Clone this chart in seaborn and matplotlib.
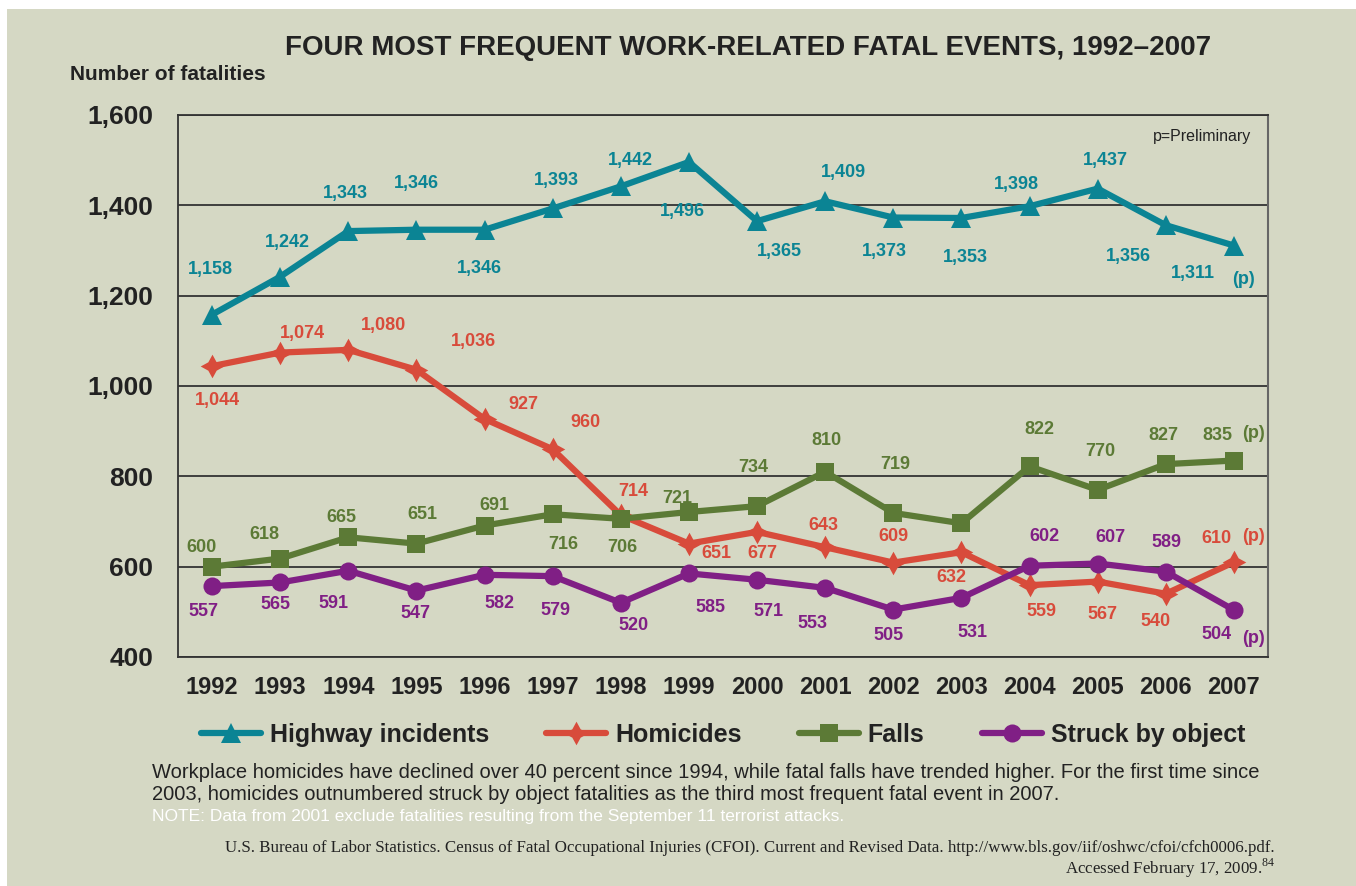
import numpy as np
import pandas as pd
import matplotlib
matplotlib.use("Agg")
import matplotlib.pyplot as plt
import seaborn as sns
from matplotlib.patches import Rectangle

years = [str(y) for y in range(1992, 2008)]

highway = [1158, 1242, 1343, 1346, 1346, 1393, 1442, 1496, 1365, 1409, 1373, 1372, 1398, 1437, 1356, 1311]
homicides = [1044, 1074, 1080, 1036, 927, 860, 714, 651, 677, 643, 609, 632, 559, 567, 540, 610]
falls = [600, 618, 665, 651, 691, 716, 706, 721, 734, 810, 719, 696, 822, 770, 827, 835]
struck = [557, 565, 591, 547, 582, 579, 520, 585, 571, 553, 505, 531, 602, 607, 589, 504]

# printed labels (as they appear on the original chart)
highway_lbl = ["1,158", "1,242", "1,343", "1,346", "1,346", "1,393", "1,442", "1,496",
               "1,365", "1,409", "1,373", "1,353", "1,398", "1,437", "1,356", "1,311"]
homicides_lbl = ["1,044", "1,074", "1,080", "1,036", "927", "960", "714", "651",
                 "677", "643", "609", "632", "559", "567", "540", "610"]
falls_lbl = ["600", "618", "665", "651", "691", "716", "706", "721",
             "734", "810", "719", "", "822", "770", "827", "835"]
struck_lbl = ["557", "565", "591", "547", "582", "579", "520", "585",
              "571", "553", "505", "531", "602", "607", "589", "504"]

# label offsets in pixels (dx, dy; dy positive = below the point)
highway_off = [(-2, -45), (7, -34), (-3, -38), (0, -46), (-5, 39), (4, -28), (10, -26), (-7, 50),
               (22, 30), (18, -29), (-9, 34), (4, 40), (-13, -22), (8, -28), (-37, 31), (-41, 28)]
homicides_off = [(5, 34), (22, -19), (35, -24), (57, -28), (39, -14), (33, -27), (12, -24), (27, 10),
                 (5, 22), (-2, -22), (0, -26), (-10, 25), (12, 26), (5, 33), (-10, 28), (-18, -24)]
falls_off = [(-11, -19), (-16, -24), (-7, -20), (6, -29), (10, -20), (11, 30), (2, 29), (-12, -14),
             (-4, -39), (1, -31), (2, -48), (0, 0), (10, -37), (3, -38), (-2, -29), (-17, -25)]
struck_off = [(-9, 25), (-5, 22), (-15, 33), (-1, 23), (15, 29), (3, 34), (13, 23), (22, 34),
              (11, 32), (-13, 36), (-5, 26), (11, 35), (15, -29), (13, -26), (1, -29), (-17, 24)]

c_hwy = "#0b8494"
c_hom = "#d84b3b"
c_fal = "#5c7a36"
c_str = "#801f85"
bg = "#d5d8c4"
ink = "#222222"

sns.set_theme(style="white")
plt.rcParams["font.family"] = ["Liberation Sans", "DejaVu Sans"]
plt.rcParams["mathtext.fontset"] = "custom"
plt.rcParams["mathtext.rm"] = "Liberation Serif"

fig = plt.figure(figsize=(13.56, 8.86), dpi=100, facecolor="white")
fig.patches.append(Rectangle((7 / 1356, 0), 1, 1 - 9 / 886, transform=fig.transFigure,
                             facecolor=bg, edgecolor="none", zorder=-10))
ax = fig.add_axes([178 / 1356, 1 - 657 / 886, 1090 / 1356, 542 / 886])
ax.set_facecolor(bg)

series = [
    ("Highway incidents", highway, highway_lbl, highway_off, c_hwy, "^", 15),
    ("Homicides", homicides, homicides_lbl, homicides_off, c_hom, (4, 1, 0), 17),
    ("Falls", falls, falls_lbl, falls_off, c_fal, "s", 13),
    ("Struck by object", struck, struck_lbl, struck_off, c_str, "o", 13),
]

for name, vals, lbls, offs, col, mk, ms in series:
    df = pd.DataFrame({"year": years, "n": vals})
    sns.lineplot(data=df, x="year", y="n", ax=ax, color=col, linewidth=4.5,
                 marker=mk, markersize=ms, markeredgewidth=0, label=name, zorder=3)
    for i, (v, t, (dx, dy)) in enumerate(zip(vals, lbls, offs)):
        if not t:
            continue
        ax.annotate(t, (i, v), xytext=(dx, -dy), textcoords="offset pixels",
                    ha="center", va="center", fontsize=13, fontweight="bold", color=col)

# preliminary markers
ax.annotate("(p)", (15, highway[-1]), xytext=(10, -34), textcoords="offset pixels",
            ha="center", va="center", fontsize=13, fontweight="bold", color=c_hwy)
ax.annotate("(p)", (15, homicides[-1]), xytext=(20, 26), textcoords="offset pixels",
            ha="center", va="center", fontsize=13, fontweight="bold", color=c_hom)
ax.annotate("(p)", (15, falls[-1]), xytext=(20, 27), textcoords="offset pixels",
            ha="center", va="center", fontsize=13, fontweight="bold", color=c_fal)
ax.annotate("(p)", (15, struck[-1]), xytext=(20, -28), textcoords="offset pixels",
            ha="center", va="center", fontsize=13, fontweight="bold", color=c_str)

ax.set_xlim(-0.5, 15.5)
ax.set_ylim(400, 1600)
ax.set_yticks(range(400, 1601, 200))
ax.set_yticklabels([f"{v:,}" for v in range(400, 1601, 200)], fontsize=19, fontweight="bold")
ax.set_xticks(range(16))
ax.set_xticklabels(years, fontsize=17, fontweight="bold")
ax.set_xticks(np.arange(-0.5, 16, 1), minor=True)
ax.tick_params(axis="x", which="major", length=0, pad=14, labelcolor=ink)
ax.tick_params(axis="x", which="minor", length=11, width=1, color="#444444", direction="out")
ax.tick_params(axis="y", length=12, width=1, color="#444444", pad=6, labelcolor=ink)
ax.yaxis.grid(True, color="#333333", linewidth=1.3)
ax.set_axisbelow(True)
ax.set_xlabel("")
ax.set_ylabel("")
for s in ["left", "bottom", "top"]:
    ax.spines[s].set_color("#333333")
    ax.spines[s].set_linewidth(1.3)
ax.spines["right"].set_color("#666666")
ax.spines["right"].set_linewidth(1.5)

ax.text(0.985, 0.975, "p=Preliminary", transform=ax.transAxes, ha="right", va="top",
        fontsize=11.5, color=ink)

handles, labels = ax.get_legend_handles_labels()
ax.get_legend().remove()
fig.legend(handles, labels, loc="center", bbox_to_anchor=(723 / 1356, 1 - 735 / 886), ncol=4,
           frameon=False, prop={"weight": "bold", "size": 18},
           handlelength=2.4, handletextpad=0.35, columnspacing=2.3, labelcolor=ink)

fig.text(748 / 1356, 1 - 48 / 886, "FOUR MOST FREQUENT WORK-RELATED FATAL EVENTS, 1992–2007",
         ha="center", va="center", fontsize=20, fontweight="bold", color=ink)
fig.text(70 / 1356, 1 - 75 / 886, "Number of fatalities", ha="left", va="center",
         fontsize=15, fontweight="bold", color=ink)

fig.text(152 / 1356, 1 - 773 / 886,
         "Workplace homicides have declined over 40 percent since 1994, while fatal falls have trended higher. "
         "For the first time since", ha="left", va="center", fontsize=14.5, color=ink)
fig.text(152 / 1356, 1 - 795 / 886,
         "2003, homicides outnumbered struck by object fatalities as the third most frequent fatal event in 2007.",
         ha="left", va="center", fontsize=14.5, color=ink)
fig.text(152 / 1356, 1 - 816 / 886,
         "NOTE: Data from 2001 exclude fatalities resulting from the September 11 terrorist attacks.",
         ha="left", va="center", fontsize=12.5, color="white")
fig.text(1275 / 1356, 1 - 848 / 886,
         "U.S. Bureau of Labor Statistics. Census of Fatal Occupational Injuries (CFOI). Current and Revised Data. "
         "http://www.bls.gov/iif/oshwc/cfoi/cfch0006.pdf.",
         ha="right", va="center", fontsize=12.2, family="Liberation Serif", color=ink)
fig.text(1275 / 1356, 1 - 868 / 886, r"Accessed February 17, 2009.$^{84}$",
         ha="right", va="center", fontsize=12.2, family="Liberation Serif", color=ink)

fig.savefig("out.png", dpi=100, facecolor="white")
